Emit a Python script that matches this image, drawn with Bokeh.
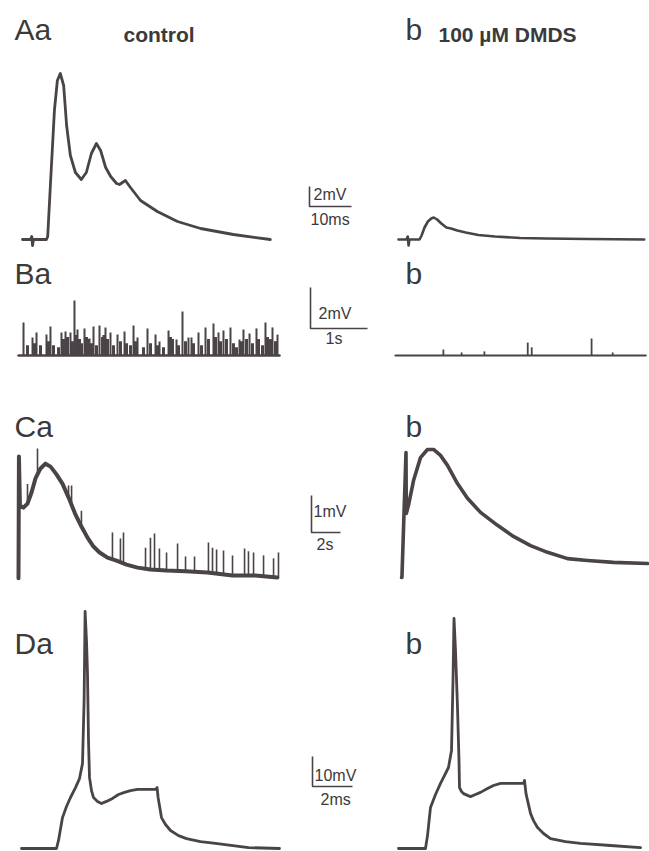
from bokeh.plotting import figure
from bokeh.models import Range1d, Label
from bokeh.embed import file_html
from bokeh.resources import INLINE

# ---------------- data ----------------
# A: evoked EPSP, time in ms, voltage in mV
a_ctrl_t = [0, 1.9, 2.2, 2.4, 2.6, 5.7, 6.0, 6.7, 7.6, 8.3, 9.0, 9.8, 10.5, 11.4, 12.6, 14.0,
            15.2, 16.4, 17.6, 18.6, 19.8, 21.0, 22.4, 23.1, 24.5, 25.7, 28.1, 32.1, 36.9, 42.4, 50.2, 59.0]
a_ctrl_v = [0, 0, 0.3, -0.6, 0, 0, 0.3, 5.9, 12.9, 15.9, 16.6, 15.4, 11.4, 8.4, 6.7, 6.0,
            6.7, 8.6, 9.6, 8.9, 7.2, 6.3, 5.6, 5.5, 5.9, 5.2, 3.9, 2.8, 1.8, 1.1, 0.5, 0.0]
a_dmds_t = [0, 1.9, 2.2, 2.4, 2.6, 5.0, 5.5, 6.2, 7.0, 7.8, 8.4, 9.2, 10.2, 11.4, 12.5, 14.0,
            16.0, 19.0, 23.0, 29.0, 35.0, 45.0, 58.5]
a_dmds_v = [0, 0, 0.3, -0.6, 0, 0, 0.4, 1.2, 1.8, 2.1, 2.2, 2.0, 1.6, 1.2, 1.1, 0.9,
            0.7, 0.45, 0.3, 0.15, 0.1, 0.05, 0.0]

# B: spontaneous events, time in s, voltage in mV
b_ctrl_dur = 4.58
b_ctrl_spike_t = [0.088, 0.246, 0.316, 0.491, 0.561, 0.754, 0.825, 0.912, 0.982, 1.035, 1.158,
                  1.246, 1.316, 1.421, 1.526, 1.614, 1.737, 1.860, 2.018, 2.088, 2.263, 2.404,
                  2.474, 2.632, 2.772, 2.877, 2.982, 3.035, 3.158, 3.281, 3.421, 3.509, 3.596,
                  3.719, 3.877, 3.947, 4.053, 4.175, 4.333, 4.456, 4.544]
b_ctrl_spike_v = [1.61, 0.88, 1.12, 1.02, 1.41, 1.12, 1.17, 1.12, 2.68, 1.27, 1.32,
                  0.83, 1.41, 1.46, 1.37, 1.12, 1.02, 1.17, 1.46, 0.88, 1.32, 1.02,
                  0.68, 1.22, 0.78, 2.15, 0.88, 0.88, 1.12, 1.37, 1.56, 1.12, 1.22,
                  1.37, 0.78, 1.27, 1.07, 1.32, 1.61, 1.37, 1.02]
b_ctrl_small_t = [0.158, 0.281, 0.386, 0.526, 0.614, 0.702, 0.789, 0.860, 0.947, 1.000, 1.070,
                  1.105, 1.193, 1.219, 1.281, 1.368, 1.474, 1.500, 1.561, 1.667, 1.789, 1.895,
                  1.965, 2.053, 2.193, 2.316, 2.439, 2.544, 2.667, 2.702, 2.807, 2.930, 3.070,
                  3.211, 3.333, 3.456, 3.544, 3.649, 3.772, 3.825, 3.912, 4.000, 4.105, 4.211,
                  4.281, 4.368, 4.421, 4.509]
b_ctrl_small_v = [0.5, 0.6, 0.5, 0.7, 0.5, 0.4, 0.8, 0.9, 0.7, 1.0, 0.8,
                  0.6, 0.9, 0.8, 0.6, 0.5, 0.9, 1.0, 0.8, 0.5, 0.7, 0.6,
                  0.5, 0.7, 0.4, 0.6, 0.5, 0.4, 0.9, 0.8, 0.5, 0.7, 0.6,
                  0.5, 0.8, 0.9, 0.7, 0.8, 0.6, 0.4, 0.7, 0.8, 0.6, 0.8,
                  0.5, 0.9, 0.8, 0.7]
b_dmds_dur = 4.39
b_dmds_spike_t = [0.84, 1.16, 1.56, 2.32, 2.39, 3.44, 3.81]
b_dmds_spike_v = [0.29, 0.15, 0.20, 0.63, 0.40, 0.83, 0.15]

# C: slow potential, time in s, voltage in mV
c_ctrl_t = [0, 0.03, 0.10, 0.34, 0.62, 0.90, 1.17, 1.52, 1.86, 2.21, 2.62, 3.03, 3.45, 3.90,
            4.34, 4.76, 5.17, 5.59, 6.14, 6.76, 7.45, 8.21, 9.10, 10.21, 11.52, 13.03, 14.76,
            16.34, 17.86]
c_ctrl_v = [-0.05, 3.24, 1.92, 1.86, 1.97, 2.27, 2.65, 2.92, 3.05, 2.97, 2.76, 2.51, 2.14, 1.70,
            1.35, 1.05, 0.81, 0.65, 0.51, 0.43, 0.32, 0.24, 0.19, 0.16, 0.14, 0.11, 0.03,
            0.03, -0.03]
c_ctrl_spike_t = [0.62, 1.31, 3.45, 3.66, 4.34, 6.48, 7.03, 7.24, 8.76, 9.10, 9.38, 9.72, 10.21,
                  10.97, 11.52, 12.14, 13.10, 13.38, 13.66, 14.14, 14.76, 15.59, 15.86, 16.21,
                  16.90, 17.59, 17.93]
c_ctrl_spike_base = [1.97, 2.80, 2.14, 2.00, 1.35, 0.46, 0.40, 0.35, 0.21, 0.19, 0.18, 0.17, 0.16,
                     0.15, 0.14, 0.13, 0.11, 0.10, 0.09, 0.07, 0.03, 0.03, 0.03, 0.03,
                     0.01, 0.00, 0.00]
c_ctrl_spike_top = [2.50, 3.46, 2.46, 2.46, 1.78, 1.19, 1.03, 1.19, 0.78, 1.05, 1.16, 0.76, 0.65,
                    0.89, 0.54, 0.54, 0.92, 0.78, 0.73, 0.70, 0.57, 0.76, 0.68, 0.65,
                    0.57, 0.49, 0.65]
c_dmds_t = [0, 0.03, 0.31, 0.33, 0.48, 0.83, 1.31, 1.79, 2.21, 2.69, 3.17, 3.86, 4.55, 5.45,
            6.62, 7.72, 8.90, 10.07, 11.45, 12.83, 14.62, 16.97]
c_dmds_v = [0, 0, 3.38, 1.73, 1.95, 2.62, 3.24, 3.46, 3.46, 3.30, 3.03, 2.54, 2.14, 1.76,
            1.41, 1.11, 0.86, 0.68, 0.51, 0.46, 0.41, 0.38]

# D: action potential, time in ms, voltage in mV
d_ctrl_t = [0, 1.75, 1.85, 2.05, 2.25, 2.45, 2.7, 2.9, 3.05, 3.13, 3.18, 3.25, 3.3, 3.35, 3.4,
            3.5, 3.6, 3.8, 4.0, 4.25, 4.55, 4.85, 5.15, 5.45, 5.8, 6.7, 6.78, 6.83, 7.0, 7.2,
            7.45, 7.85, 8.25, 8.95, 9.7, 11.35, 12.9]
d_ctrl_v = [0, 0, 2.7, 10.3, 14.0, 17.0, 20.3, 23.3, 28.3, 49.3, 79.0, 69.3, 58.3, 36.0, 23.7,
            19.3, 17.0, 15.7, 15.0, 15.7, 16.7, 18.0, 18.7, 19.3, 19.7, 19.7, 20.3, 17.0, 10.3, 8.0,
            6.0, 4.3, 3.3, 2.3, 1.7, 0.3, 0]
d_dmds_t = [0, 1.35, 1.45, 1.6, 1.85, 2.1, 2.35, 2.5, 2.65, 2.725, 2.775, 2.85, 2.95, 3.025, 3.05,
            3.15, 3.25, 3.45, 3.6, 3.85, 4.1, 4.45, 4.75, 5.1, 6.25, 6.3, 6.375, 6.6, 6.75, 6.95,
            7.25, 7.6, 8.35, 9.1, 10.6, 12.1]
d_dmds_v = [0, 0, 4.3, 13.7, 18.0, 21.7, 25.0, 27.0, 32.7, 56.0, 76.7, 66.0, 47.0, 29.3, 20.3,
            19.0, 18.3, 17.7, 17.3, 18.0, 18.7, 20.0, 21.0, 21.7, 21.7, 22.7, 18.3, 11.7, 9.3, 7.0,
            5.0, 3.3, 2.3, 1.7, 1.0, 0.3]

# scale bars (A, B, C, D)
scale_v = [2, 2, 1, 10]
scale_t = [10, 1, 2, 2]
scale_v_labels = ["2mV", "2mV", "1mV", "10mV"]
scale_t_labels = ["10ms", "1s", "2s", "2ms"]

row_labels = ["Aa", "Ba", "Ca", "Da"]
col_titles = ["control", "100 \u00b5M DMDS"]

# ---------------- layout (page pixel positions) ----------------
W, H = 649, 851
FX0, FX1, FY0, FY1 = 0, W, 0, H
TRACE = "#4a4347"
TEXT = "#3a3a3a"
FONT = "Liberation Sans"

p = figure(width=W, height=H, output_backend="svg", toolbar_location=None,
           x_range=Range1d(FX0, FX1), y_range=Range1d(FY1, FY0),
           x_axis_location=None, y_axis_location=None, min_border=0)
p.outline_line_color = None
p.grid.visible = False
p.background_fill_color = "white"
p.border_fill_color = "white"

# panel origin (px), px per time unit, px per mV
panels = {
    "A0": (22, 239, 4.2, 10.0), "A1": (398, 239, 4.2, 10.0),
    "B0": (18, 355, 57.0, 20.5), "B1": (395, 355, 57.0, 20.5),
    "C0": (18, 576, 14.5, 37.0), "C1": (401, 577, 14.5, 37.0),
    "D0": (21, 848, 20.0, 3.0), "D1": (398, 848, 20.0, 3.0),
}
xr, yr = {}, {}
for name, (x0, y0, sx, sy) in panels.items():
    xr[name] = Range1d((FX0 - x0) / sx, (FX1 - x0) / sx)
    yr[name] = Range1d((y0 - FY1) / sy, (y0 - FY0) / sy)
p.extra_x_ranges = xr
p.extra_y_ranges = yr

def L(t, v, name, w=2.6):
    p.line(t, v, x_range_name=name, y_range_name=name, line_color=TRACE,
           line_width=w, line_join="round", line_cap="round")

def S(t, v0, v1, name, w):
    p.segment(x0=t, y0=v0, x1=t, y1=v1, x_range_name=name, y_range_name=name,
              line_color=TRACE, line_width=w)

# A
L(a_ctrl_t, a_ctrl_v, "A0", 2.8)
L(a_dmds_t, a_dmds_v, "A1", 2.6)
# B
L([0, b_ctrl_dur], [0, 0], "B0", 2.4)
S(b_ctrl_small_t, [0] * len(b_ctrl_small_t), b_ctrl_small_v, "B0", 3.0)
S(b_ctrl_spike_t, [0] * len(b_ctrl_spike_t), b_ctrl_spike_v, "B0", 2.0)
L([0, b_dmds_dur], [0, 0], "B1", 2.2)
S(b_dmds_spike_t, [0] * len(b_dmds_spike_t), b_dmds_spike_v, "B1", 1.8)
# C
L(c_ctrl_t, c_ctrl_v, "C0", 4.0)
S(c_ctrl_spike_t, c_ctrl_spike_base, c_ctrl_spike_top, "C0", 1.6)
L(c_dmds_t, c_dmds_v, "C1", 3.6)
# D
L(d_ctrl_t, d_ctrl_v, "D0", 2.8)
L(d_dmds_t, d_dmds_v, "D1", 2.8)

# scale bars, drawn in the left panel's units
bar_corner = [(309, 206), (310, 328), (311, 532), (312, 786)]
for i, key in enumerate(["A0", "B0", "C0", "D0"]):
    x0, y0, sx, sy = panels[key]
    cx, cy = bar_corner[i]
    tc = (cx - x0) / sx
    vc = (y0 - cy) / sy
    p.line([tc, tc, tc + scale_t[i]], [vc + scale_v[i], vc, vc],
           x_range_name=key, y_range_name=key, line_color=TRACE, line_width=1.6)

def T(x, y_base, text, size, bold=False):
    # y_base: wanted alphabetic baseline in page px (compensated for text placement)
    p.add_layout(Label(x=x, y=y_base - 0.43 * size, text=text, text_font=FONT,
                       text_font_size=f"{size}px", text_color=TEXT,
                       text_font_style="bold" if bold else "normal",
                       text_baseline="alphabetic"))

# scale bar labels
vlab_pos = [(313, 201), (318, 320), (313, 518), (314, 782)]
tlab_pos = [(310, 226), (325, 345), (316, 551), (320, 806)]
for i in range(4):
    T(vlab_pos[i][0], vlab_pos[i][1], scale_v_labels[i], 16)
    T(tlab_pos[i][0], tlab_pos[i][1], scale_t_labels[i], 16)

# row labels
row_y = [42, 286, 439, 656]
for i in range(4):
    T(14, row_y[i], row_labels[i], 30)
    T(405, row_y[i], "b", 30)

# column titles
T(123, 43, col_titles[0], 21, bold=True)
T(438, 43, col_titles[1], 21, bold=True)

open("out.html", "w").write(file_html(p, INLINE))
